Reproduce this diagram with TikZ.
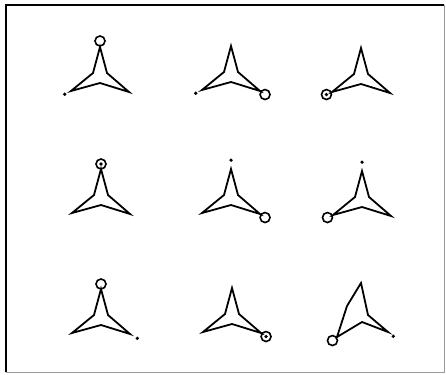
\documentclass[tikz,border=0pt]{standalone}
\usetikzlibrary{positioning}

\begin{document}
\begin{tikzpicture}[
    x=1pt, y=-1pt,
    star/.style={line width=1.8pt, line join=miter},
    ring/.style={circle, draw, line width=1.6pt, minimum size=10pt,
        inner sep=0pt, outer sep=0pt},
    dot/.style={circle, fill, minimum size=3.6pt, inner sep=0pt, outer sep=0pt},
]

\useasboundingbox (0,0) rectangle (446,374);

% marco
\draw[line width=1.3pt] (6,372) -- (6,5) -- (444,5);
\draw[line width=0.8pt, black!40] (444,5) -- (444,372) -- (6,372);

% estrellas de tres puntas
\foreach \cx/\cy [count=\i] in {100/77, 231/76, 361/78,
                                101/199, 231/199, 362/201,
                                101/319, 232/318}{
    \coordinate (t\i) at (\cx,\cy-30);
    \coordinate (l\i) at (\cx-29,\cy+14);
    \coordinate (r\i) at (\cx+29,\cy+15);
    \draw[star] (t\i) -- (\cx-7,\cy-4) -- (l\i) -- (\cx,\cy+6)
        -- (r\i) -- (\cx+7,\cy-4) -- cycle;
}

% la deformada
\coordinate (t9) at (361,283);
\coordinate (l9) at (337,337);
\coordinate (r9) at (388,332);
\draw[star] (t9) -- (347,306) -- (l9) -- (362,322) -- (r9) -- (368,315) -- cycle;

% fila 1
\node[ring, above=1pt of t1] (c1) {};
\node[dot, below left=2pt and 5pt of l1] (d1) {};
\node[dot, below left=2pt and 5pt of l2] (d2) {};
\node[ring, below right=0pt and 1.5pt of r2] (c2) {};
\node[ring, below left=-1pt and 2pt of l3] (c3) {};
\node[dot] (p3) at (c3) {};

% fila 2
\node[ring, above=0pt of t4] (c4) {};
\node[dot] (p4) at (c4) {};
\node[dot, above=7pt of t5] (d5) {};
\node[ring, below right=0pt and 1.5pt of r5] (c5) {};
\node[dot, above=7pt of t6] (d6) {};
\node[ring, below left=-1pt and 2pt of l6] (c6) {};

% fila 3
\node[ring, above=0pt of t7] (c7) {};
\node[dot, below right=3pt and 6pt of r7] (d7) {};
\node[ring, below right=0pt and 1.5pt of r8] (c8) {};
\node[dot] (p8) at (c8) {};
\node[ring, below left=0pt and 1pt of l9] (c9) {};
\node[dot, below right=3pt and 4pt of r9] (d9) {};

\end{tikzpicture}
\end{document}
